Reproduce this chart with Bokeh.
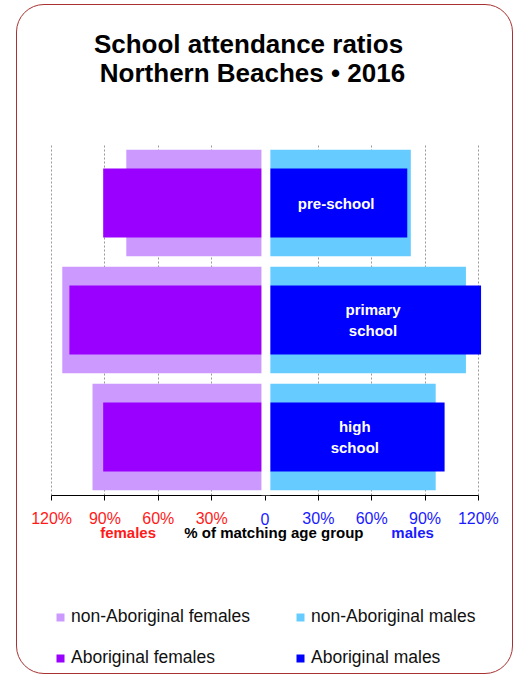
from bokeh.plotting import figure
from bokeh.models import (Range1d, FactorRange, FixedTicker, BoxAnnotation, Label,
                          ColumnDataSource, Legend, LegendItem, Spacer)
from bokeh.layouts import column, row
from bokeh.core.properties import value
from bokeh.embed import file_html
from bokeh.resources import INLINE

# ---- data ----
levels = ["pre-school", "primary school", "high school"]
level_labels = ["pre-school", "primary\nschool", "high\nschool"]
nonab_females = [78, 114, 97]
ab_females = [91, 110, 91]
nonab_males = [82, 113, 96]
ab_males = [80, 121.5, 101]
tick_values = [-120, -90, -60, -30, 0, 30, 60, 90, 120]
tick_labels = ["120%", "90%", "60%", "30%", "0", "30%", "60%", "90%", "120%"]

FONT = "Liberation Sans"
C_NAF, C_AF, C_NAM, C_AM = "#cc99ff", "#9900ff", "#66ccff", "#0000ff"
RED, BLUE = "#ff1a1a", "#1a1aff"

W = 495                 # inner card width
FRAME_W = 441
X_HALF = 124
SCALE = FRAME_W / (2 * X_HALF)
FULL_HALF = (W / 2) / SCALE


def bare(fig):
    fig.grid.visible = False
    fig.outline_line_color = None
    fig.border_fill_color = None
    fig.background_fill_color = None


# ---- title figure ----
T_H = 139
t = figure(width=W, height=T_H, x_range=Range1d(-FULL_HALF, FULL_HALF), y_range=Range1d(0, T_H),
           output_backend="svg", toolbar_location=None, x_axis_location=None, y_axis_location=None,
           min_border=0, min_border_left=0, min_border_right=0, min_border_top=0, min_border_bottom=0,
           frame_align=False)
bare(t)
t.add_layout(Label(x=231, y=101, x_units="screen", y_units="screen", text="School attendance ratios",
                   text_align="center", text_baseline="middle", text_font=FONT,
                   text_font_style="bold", text_font_size="26px", text_color="black"))
t.add_layout(Label(x=235, y=72, x_units="screen", y_units="screen", text="Northern Beaches \u2022 2016",
                   text_align="center", text_baseline="middle", text_font=FONT,
                   text_font_style="bold", text_font_size="26px", text_color="black"))

# ---- bar figure ----
src = ColumnDataSource(dict(
    level=levels,
    naf=[-v for v in nonab_females],
    af=[-v for v in ab_females],
    nam=nonab_males,
    am=ab_males,
    label=level_labels,
    label_x=[v / 2 for v in ab_males],
))

A_FRAME_H = 351
A_BOTTOM = 12
p = figure(width=W, height=A_FRAME_H + A_BOTTOM, x_range=Range1d(-X_HALF, X_HALF),
           y_range=FactorRange(factors=levels[::-1]),
           output_backend="svg", toolbar_location=None, y_axis_location=None,
           min_border_left=27, min_border_right=W - 27 - FRAME_W, min_border_top=0,
           min_border_bottom=A_BOTTOM, frame_align=False)
p.border_fill_color = None
p.outline_line_color = None

r_naf = p.hbar(y="level", left="naf", right=0, height=0.91, fill_color=C_NAF, line_color=None, source=src)
r_nam = p.hbar(y="level", left=0, right="nam", height=0.91, fill_color=C_NAM, line_color=None, source=src)
r_af = p.hbar(y="level", left="af", right=0, height=0.59, fill_color=C_AF, line_color=None, source=src)
r_am = p.hbar(y="level", left=0, right="am", height=0.59, fill_color=C_AM, line_color=None, source=src)

p.text(x="label_x", y="level", text="label", source=src, text_color="white",
       text_font=value(FONT), text_font_style="bold", text_font_size="15px",
       text_align="center", text_baseline="middle", text_line_height=1.28)

p.add_layout(BoxAnnotation(left=-2.0, right=3.0, fill_color="white", fill_alpha=1.0, line_color=None))

p.ygrid.visible = False
p.xgrid.ticker = FixedTicker(ticks=[v for v in tick_values if v != 0])
p.xgrid.grid_line_color = "#999999"
p.xgrid.grid_line_dash = "2 2"

p.xaxis.ticker = FixedTicker(ticks=tick_values)
p.xaxis.bounds = (-120, 120)
p.xaxis.major_tick_in = 0
p.xaxis.major_tick_out = 5
p.xaxis.major_label_standoff = 0
p.xaxis.minor_tick_line_color = None
p.xaxis.axis_line_color = "black"
p.xaxis.major_tick_line_color = "black"
p.xaxis.major_label_text_color = None

# ---- bottom figure: tick labels, captions, legend ----
B_H = 166
b = figure(width=W, height=B_H, x_range=Range1d(-FULL_HALF, FULL_HALF), y_range=Range1d(B_H, 0),
           output_backend="svg", toolbar_location=None, x_axis_location=None, y_axis_location=None,
           min_border=0, min_border_left=0, min_border_right=0, min_border_top=0, min_border_bottom=0,
           frame_align=False)
bare(b)

tsrc = ColumnDataSource(dict(x=tick_values, text=tick_labels,
                             color=[RED if v < 0 else BLUE for v in tick_values]))
b.text(x="x", y=11, text="text", source=tsrc, text_align="center", text_baseline="middle",
       text_color="color", text_font=value(FONT), text_font_size="16px")

for txt, xx, col in [("females", -77, RED), ("% of matching age group", 5, "black"), ("males", 83, BLUE)]:
    b.add_layout(Label(x=xx, y=25, text=txt, text_align="center", text_baseline="middle",
                       text_font=FONT, text_font_style="bold", text_font_size="15px", text_color=col))

# legend swatches take their colours from renderers that share the bar data
lr = {}
for key, c, field in [("naf", C_NAF, "naf"), ("nam", C_NAM, "nam"), ("af", C_AF, "af"), ("am", C_AM, "am")]:
    lr[key] = b.hbar(y="level", left=0, right=field, height=1, fill_color=c, line_color=None, source=src)

leg_kw = dict(orientation="vertical", padding=0, margin=0, spacing=20, glyph_width=10, glyph_height=10,
              label_standoff=6, label_height=20, label_text_font=FONT, label_text_font_size="17.5px",
              label_text_color="#111111", border_line_color=None, background_fill_alpha=0)
leg_f = Legend(items=[LegendItem(label=value("non-Aboriginal females"), renderers=[lr["naf"]]),
                      LegendItem(label=value("Aboriginal females"), renderers=[lr["af"]])],
               location=(38, 5), **leg_kw)
leg_m = Legend(items=[LegendItem(label=value("non-Aboriginal males"), renderers=[lr["nam"]]),
                      LegendItem(label=value("Aboriginal males"), renderers=[lr["am"]])],
               location=(278, 5), **leg_kw)
b.add_layout(leg_f)
b.add_layout(leg_m)

card = column(t, p, b, styles={"border": "1px solid #a83232", "border-radius": "28px"})
layout = column(Spacer(height=4), row(Spacer(width=16), card))

open("out.html", "w").write(file_html(layout, INLINE))
